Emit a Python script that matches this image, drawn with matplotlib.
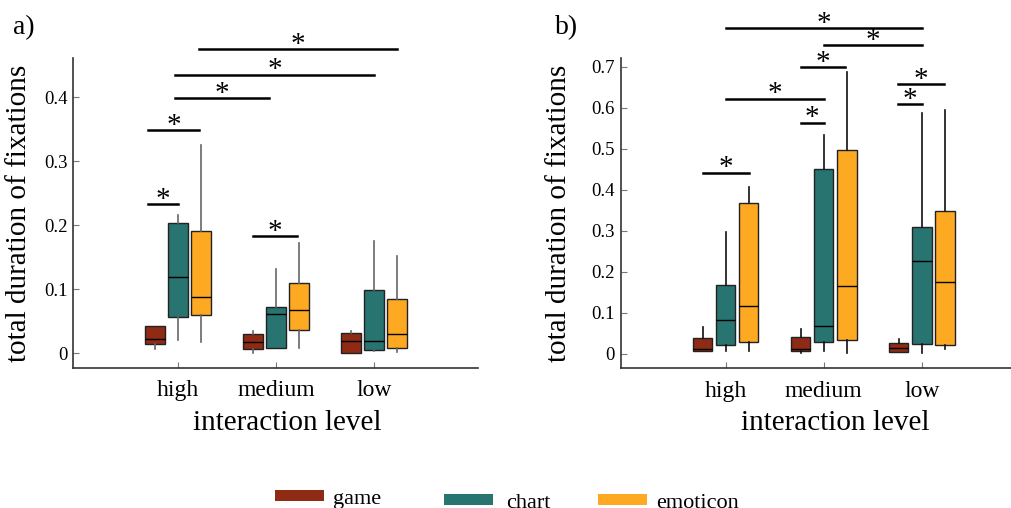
import matplotlib
matplotlib.use("Agg")
import matplotlib.pyplot as plt
from matplotlib.patches import Patch

plt.rcParams['font.family'] = ['Liberation Serif', 'DejaVu Serif']

levels = ["high", "medium", "low"]
categories = ["game", "chart", "emoticon"]
colors = {"game": "#8f2a15", "chart": "#287470", "emoticon": "#fda922"}

# per category: one tuple per level -> (whislo, q1, med, q3, whishi)
stats_a = {
    "game":     [(0.006, 0.014, 0.022, 0.043, 0.043),
                 (0.001, 0.006, 0.018, 0.030, 0.035),
                 (0.000, 0.000, 0.019, 0.031, 0.034)],
    "chart":    [(0.020, 0.056, 0.119, 0.204, 0.216),
                 (0.008, 0.008, 0.062, 0.072, 0.132),
                 (0.003, 0.005, 0.019, 0.098, 0.176)],
    "emoticon": [(0.018, 0.059, 0.088, 0.191, 0.325),
                 (0.008, 0.037, 0.068, 0.110, 0.172),
                 (0.0025, 0.008, 0.030, 0.085, 0.152)],
}
stats_b = {
    "game":     [(0.007, 0.007, 0.011, 0.038, 0.065),
                 (0.0016, 0.007, 0.013, 0.041, 0.060),
                 (0.004, 0.004, 0.015, 0.027, 0.037)],
    "chart":    [(0.006, 0.021, 0.082, 0.167, 0.297),
                 (0.007, 0.028, 0.068, 0.450, 0.534),
                 (0.0016, 0.024, 0.226, 0.310, 0.587)],
    "emoticon": [(0.007, 0.029, 0.118, 0.367, 0.408),
                 (0.0016, 0.035, 0.165, 0.498, 0.687),
                 (0.011, 0.022, 0.176, 0.348, 0.595)],
}

# significance bars: (x start, x end, y)
sig_a = [(0.70, 1.00, 0.233), (0.70, 1.22, 0.349), (0.97, 1.93, 0.398),
         (0.97, 3.00, 0.435), (1.22, 3.23, 0.475), (1.77, 2.21, 0.1835)]
sig_b = [(0.765, 1.235, 0.442), (1.0, 2.0, 0.623), (1.765, 2.0, 0.564),
         (1.77, 2.22, 0.700), (2.0, 3.0, 0.754), (1.0, 3.0, 0.795),
         (2.76, 3.0, 0.610), (2.76, 3.23, 0.659)]

yticks_a = [0, 0.1, 0.2, 0.3, 0.4]
yticks_b = [0, 0.1, 0.2, 0.3, 0.4, 0.5, 0.6, 0.7]

offsets = [-0.235, 0.0, 0.235]


def draw_panel(ax, stats, sig, yticks, ylim, whisk_color, ylabel_x):
    for cat, off in zip(categories, offsets):
        boxes = []
        for lo, q1, med, q3, hi in stats[cat]:
            boxes.append(dict(whislo=lo, q1=q1, med=med, q3=q3, whishi=hi, fliers=[]))
        pos = [i + 1 + off for i in range(len(levels))]
        ax.bxp(boxes, positions=pos, widths=0.2, patch_artist=True,
               showcaps=False, showfliers=False,
               boxprops=dict(facecolor=colors[cat], edgecolor="#222222", linewidth=1.0),
               medianprops=dict(color="black", linewidth=1.0),
               whiskerprops=dict(color=whisk_color, linewidth=1.2))
    for x0, x1, y in sig:
        ax.plot([x0, x1], [y, y], color="black", lw=1.8, clip_on=False)
        ax.annotate("*", xy=((x0 + x1) / 2, y), xytext=(0, -2), textcoords="offset points",
                    ha="center", va="baseline", fontsize=21, annotation_clip=False)
    ax.set_xlim(-0.07, 4.06)
    ax.set_ylim(*ylim)
    ax.set_xticks([1, 2, 3])
    ax.set_xticklabels(levels)
    ax.set_yticks(yticks)
    ax.set_yticklabels(["0"] + [f"{t:.1f}" for t in yticks[1:]])
    for s in ["top", "right"]:
        ax.spines[s].set_visible(False)
    for s in ["left", "bottom"]:
        ax.spines[s].set_color("#333333")
        ax.spines[s].set_linewidth(1.2)
    ax.tick_params(axis="both", direction="in", length=4, color="#777777")
    ax.tick_params(axis="x", labelsize=17, pad=9)
    ax.tick_params(axis="y", labelsize=13.5, pad=4)
    ax.set_xlabel("interaction level", fontsize=21)
    ax.set_ylabel("total duration of fixations", fontsize=21)
    ax.xaxis.set_label_coords(0.53, -0.135)
    ax.yaxis.set_label_coords(ylabel_x, 0.5)


fig = plt.figure(figsize=(10.12, 5.08), dpi=100)
ax_a = fig.add_axes([0.0721, 0.2756, 0.4002, 0.6102])
ax_b = fig.add_axes([0.6133, 0.2750, 0.4002, 0.6102])

draw_panel(ax_a, stats_a, sig_a, yticks_a, (-0.023, 0.461), "#666666", -0.10)
draw_panel(ax_b, stats_b, sig_b, yticks_b, (-0.035, 0.721), "#111111", -0.12)

fig.text(13 / 1012, 0.932, "a)", fontsize=20)
fig.text(555 / 1012, 0.932, "b)", fontsize=20)

leg_pos = {"game": (275 / 1012, 0.0177, 0.40),
           "chart": (444 / 1012, 0.0098, 0.58),
           "emoticon": (598 / 1012, 0.0098, 0.40)}
for cat in categories:
    x, y, pad = leg_pos[cat]
    fig.legend(handles=[Patch(facecolor=colors[cat], edgecolor="none", label=cat)],
               loc="center left", bbox_to_anchor=(x, y), frameon=False,
               borderpad=0, borderaxespad=0, handlelength=2.2, handleheight=0.42,
               handletextpad=pad, fontsize=16)

fig.savefig("out.png", dpi=100)
